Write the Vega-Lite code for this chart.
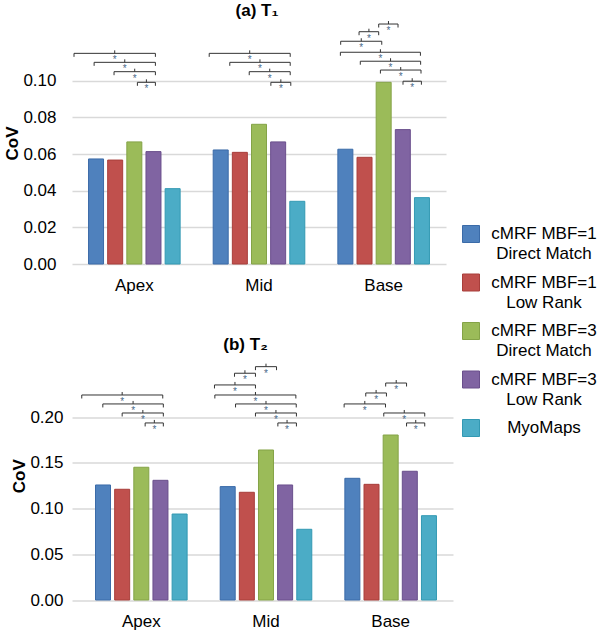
{
  "$schema": "https://vega.github.io/schema/vega-lite/v6.json",
  "padding": {"left": 3, "top": 2, "right": 0, "bottom": 0},
  "background": "white",
  "config": {
    "view": {"stroke": null},
    "font": "Liberation Sans",
    "title": {"font": "Liberation Sans", "fontSize": 17, "fontWeight": "bold", "color": "#000"},
    "axis": {"labelFont": "Liberation Sans", "labelFontSize": 17, "labelColor": "#000", "titleFont": "Liberation Sans", "titleFontSize": 17, "titleFontWeight": "bold", "titleColor": "#000", "ticks": false, "domain": false, "gridColor": "#d9d9d9", "gridWidth": 1.5},
    "axisY": {"labelPadding": 16, "titlePadding": 1},
    "axisX": {"labelPadding": 13.5, "grid": false, "labelAngle": 0},
    "style": {"guide-label": {"lineHeight": 20}},
    "legend": {"orient": "none", "legendX": 390, "legendY": 203, "title": null, "symbolType": "square", "symbolSize": 289, "symbolStrokeColor": "#3a3a3a", "symbolStrokeWidth": 1, "labelFont": "Liberation Sans", "labelFontSize": 17, "labelColor": "#000", "labelAlign": "center", "labelOffset": 64, "rowPadding": 9.5, "labelLimit": 250}
  },
  "datasets": {
    "bars": [
      {"panel": "a", "region": "Apex", "series": "cMRF MBF=1 Direct Match", "s": 0, "cov": 0.0573},
      {"panel": "a", "region": "Apex", "series": "cMRF MBF=1 Low Rank", "s": 1, "cov": 0.0567},
      {"panel": "a", "region": "Apex", "series": "cMRF MBF=3 Direct Match", "s": 2, "cov": 0.0666},
      {"panel": "a", "region": "Apex", "series": "cMRF MBF=3 Low Rank", "s": 3, "cov": 0.0613},
      {"panel": "a", "region": "Apex", "series": "MyoMaps", "s": 4, "cov": 0.0411},
      {"panel": "a", "region": "Mid", "series": "cMRF MBF=1 Direct Match", "s": 0, "cov": 0.0622},
      {"panel": "a", "region": "Mid", "series": "cMRF MBF=1 Low Rank", "s": 1, "cov": 0.0609},
      {"panel": "a", "region": "Mid", "series": "cMRF MBF=3 Direct Match", "s": 2, "cov": 0.0762},
      {"panel": "a", "region": "Mid", "series": "cMRF MBF=3 Low Rank", "s": 3, "cov": 0.0666},
      {"panel": "a", "region": "Mid", "series": "MyoMaps", "s": 4, "cov": 0.0342},
      {"panel": "a", "region": "Base", "series": "cMRF MBF=1 Direct Match", "s": 0, "cov": 0.0626},
      {"panel": "a", "region": "Base", "series": "cMRF MBF=1 Low Rank", "s": 1, "cov": 0.0582},
      {"panel": "a", "region": "Base", "series": "cMRF MBF=3 Direct Match", "s": 2, "cov": 0.0991},
      {"panel": "a", "region": "Base", "series": "cMRF MBF=3 Low Rank", "s": 3, "cov": 0.0733},
      {"panel": "a", "region": "Base", "series": "MyoMaps", "s": 4, "cov": 0.0362},
      {"panel": "b", "region": "Apex", "series": "cMRF MBF=1 Direct Match", "s": 0, "cov": 0.1259},
      {"panel": "b", "region": "Apex", "series": "cMRF MBF=1 Low Rank", "s": 1, "cov": 0.1212},
      {"panel": "b", "region": "Apex", "series": "cMRF MBF=3 Direct Match", "s": 2, "cov": 0.1453},
      {"panel": "b", "region": "Apex", "series": "cMRF MBF=3 Low Rank", "s": 3, "cov": 0.1310},
      {"panel": "b", "region": "Apex", "series": "MyoMaps", "s": 4, "cov": 0.0941},
      {"panel": "b", "region": "Mid", "series": "cMRF MBF=1 Direct Match", "s": 0, "cov": 0.1241},
      {"panel": "b", "region": "Mid", "series": "cMRF MBF=1 Low Rank", "s": 1, "cov": 0.1179},
      {"panel": "b", "region": "Mid", "series": "cMRF MBF=3 Direct Match", "s": 2, "cov": 0.1642},
      {"panel": "b", "region": "Mid", "series": "cMRF MBF=3 Low Rank", "s": 3, "cov": 0.1259},
      {"panel": "b", "region": "Mid", "series": "MyoMaps", "s": 4, "cov": 0.0774},
      {"panel": "b", "region": "Base", "series": "cMRF MBF=1 Direct Match", "s": 0, "cov": 0.1332},
      {"panel": "b", "region": "Base", "series": "cMRF MBF=1 Low Rank", "s": 1, "cov": 0.1266},
      {"panel": "b", "region": "Base", "series": "cMRF MBF=3 Direct Match", "s": 2, "cov": 0.1806},
      {"panel": "b", "region": "Base", "series": "cMRF MBF=3 Low Rank", "s": 3, "cov": 0.1409},
      {"panel": "b", "region": "Base", "series": "MyoMaps", "s": 4, "cov": 0.0923}
    ],
    "brackets": [
      {"panel": "a", "region": "Apex", "id": "aA1", "lo": -1.15, "hi": 3.10, "mid": 0.975, "y": 0.1149},
      {"panel": "a", "region": "Apex", "id": "aA2", "lo": -0.10, "hi": 3.10, "mid": 1.5, "y": 0.1100},
      {"panel": "a", "region": "Apex", "id": "aA3", "lo": 0.94, "hi": 3.10, "mid": 2.02, "y": 0.1049},
      {"panel": "a", "region": "Apex", "id": "aA4", "lo": 2.16, "hi": 3.10, "mid": 2.63, "y": 0.0991},
      {"panel": "a", "region": "Mid", "id": "aM1", "lo": -0.60, "hi": 3.63, "mid": 1.515, "y": 0.1149},
      {"panel": "a", "region": "Mid", "id": "aM2", "lo": 0.475, "hi": 3.63, "mid": 2.05, "y": 0.1100},
      {"panel": "a", "region": "Mid", "id": "aM3", "lo": 1.49, "hi": 3.63, "mid": 2.56, "y": 0.1049},
      {"panel": "a", "region": "Mid", "id": "aM4", "lo": 2.62, "hi": 3.66, "mid": 3.14, "y": 0.0991},
      {"panel": "a", "region": "Base", "id": "aB1", "lo": 1.74, "hi": 2.75, "mid": 2.25, "y": 0.1309},
      {"panel": "a", "region": "Base", "id": "aB2", "lo": 0.715, "hi": 1.74, "mid": 1.23, "y": 0.1267},
      {"panel": "a", "region": "Base", "id": "aB3", "lo": -0.245, "hi": 1.90, "mid": 0.83, "y": 0.1215},
      {"panel": "a", "region": "Base", "id": "aB4", "lo": -0.26, "hi": 3.92, "mid": 1.83, "y": 0.1155},
      {"panel": "a", "region": "Base", "id": "aB5", "lo": 0.78, "hi": 3.93, "mid": 2.36, "y": 0.1106},
      {"panel": "a", "region": "Base", "id": "aB6", "lo": 1.83, "hi": 3.95, "mid": 2.89, "y": 0.1058},
      {"panel": "a", "region": "Base", "id": "aB7", "lo": 3.01, "hi": 3.97, "mid": 3.49, "y": 0.0997},
      {"panel": "b", "region": "Apex", "id": "bA1", "lo": -1.11, "hi": 3.12, "mid": 1.0, "y": 0.2244},
      {"panel": "b", "region": "Apex", "id": "bA2", "lo": -0.01, "hi": 3.15, "mid": 1.57, "y": 0.2146},
      {"panel": "b", "region": "Apex", "id": "bA3", "lo": 1.0, "hi": 3.15, "mid": 2.08, "y": 0.2047},
      {"panel": "b", "region": "Apex", "id": "bA4", "lo": 2.2, "hi": 3.15, "mid": 2.68, "y": 0.1938},
      {"panel": "b", "region": "Mid", "id": "bM1", "lo": 1.45, "hi": 2.55, "mid": 2.0, "y": 0.2554},
      {"panel": "b", "region": "Mid", "id": "bM2", "lo": 0.355, "hi": 1.45, "mid": 0.90, "y": 0.2482},
      {"panel": "b", "region": "Mid", "id": "bM3", "lo": -0.69, "hi": 1.45, "mid": 0.38, "y": 0.2354},
      {"panel": "b", "region": "Mid", "id": "bM4", "lo": -0.67, "hi": 3.56, "mid": 1.45, "y": 0.2244},
      {"panel": "b", "region": "Mid", "id": "bM5", "lo": 0.41, "hi": 3.58, "mid": 2.0, "y": 0.2146},
      {"panel": "b", "region": "Mid", "id": "bM6", "lo": 1.45, "hi": 3.59, "mid": 2.52, "y": 0.2047},
      {"panel": "b", "region": "Mid", "id": "bM7", "lo": 2.62, "hi": 3.59, "mid": 3.1, "y": 0.1938},
      {"panel": "b", "region": "Base", "id": "bB1", "lo": 1.74, "hi": 2.83, "mid": 2.29, "y": 0.2375},
      {"panel": "b", "region": "Base", "id": "bB2", "lo": 0.70, "hi": 1.78, "mid": 1.24, "y": 0.2266},
      {"panel": "b", "region": "Base", "id": "bB3", "lo": -0.43, "hi": 1.73, "mid": 0.65, "y": 0.2146},
      {"panel": "b", "region": "Base", "id": "bB4", "lo": 1.64, "hi": 3.78, "mid": 2.71, "y": 0.2047},
      {"panel": "b", "region": "Base", "id": "bB5", "lo": 2.83, "hi": 3.78, "mid": 3.31, "y": 0.1938}
    ]
  },
  "spacing": 41.5,
  "vconcat": [
    {
      "title": {"text": "(a) T₁", "dx": -2, "offset": -1},
      "width": 374,
      "height": 242,
      "layer": [
        {
          "data": {"name": "bars"},
          "transform": [{"filter": "datum.panel == 'a'"}],
          "mark": {"type": "bar", "width": 15, "strokeWidth": 1},
          "encoding": {
            "x": {"field": "region", "type": "nominal", "sort": ["Apex", "Mid", "Base"], "scale": {"paddingInner": 0, "paddingOuter": 0}, "title": null},
            "xOffset": {"field": "s", "type": "quantitative", "scale": {"domain": [-1.255, 5.255], "nice": false, "zero": false}},
            "y": {"field": "cov", "type": "quantitative", "scale": {"domain": [0, 0.132], "nice": false}, "axis": {"values": [0, 0.02, 0.04, 0.06, 0.08, 0.1], "format": ".2f"}, "title": "CoV"},
            "color": {"field": "series", "type": "nominal", "scale": {"domain": ["cMRF MBF=1 Direct Match", "cMRF MBF=1 Low Rank", "cMRF MBF=3 Direct Match", "cMRF MBF=3 Low Rank", "MyoMaps"], "range": ["#4f81bd", "#c0504d", "#9bbb59", "#8064a2", "#4bacc6"]}, "legend": {"labelExpr": "datum.label == 'MyoMaps' ? datum.label : [slice(datum.label, 0, 10), slice(datum.label, 11)]"}},
            "stroke": {"field": "series", "type": "nominal", "scale": {"domain": ["cMRF MBF=1 Direct Match", "cMRF MBF=1 Low Rank", "cMRF MBF=3 Direct Match", "cMRF MBF=3 Low Rank", "MyoMaps"], "range": ["#3b6ba8", "#a83e3b", "#84a347", "#6a4f8c", "#3399b3"]}, "legend": null}
          }
        },
        {
          "data": {"name": "brackets"},
          "transform": [{"filter": "datum.panel == 'a'"}, {"fold": ["lo", "hi"], "as": ["end", "pos"]}],
          "mark": {"type": "line", "color": "#333333", "strokeWidth": 1},
          "encoding": {
            "x": {"field": "region", "type": "nominal", "sort": ["Apex", "Mid", "Base"]},
            "xOffset": {"field": "pos", "type": "quantitative"},
            "y": {"field": "y", "type": "quantitative"},
            "detail": {"field": "id", "type": "nominal"}
          }
        },
        {
          "data": {"name": "brackets"},
          "transform": [{"filter": "datum.panel == 'a'"}, {"fold": ["lo", "hi"], "as": ["end", "pos"]}],
          "mark": {"type": "point", "shape": "M0,0L0,1", "size": 49, "filled": false, "stroke": "#333333", "strokeWidth": 1, "opacity": 1},
          "encoding": {
            "x": {"field": "region", "type": "nominal", "sort": ["Apex", "Mid", "Base"]},
            "xOffset": {"field": "pos", "type": "quantitative"},
            "y": {"field": "y", "type": "quantitative"}
          }
        },
        {
          "data": {"name": "brackets"},
          "transform": [{"filter": "datum.panel == 'a'"}],
          "mark": {"type": "point", "shape": "M0,0L0,-1", "size": 36, "filled": false, "stroke": "#333333", "strokeWidth": 1, "opacity": 1},
          "encoding": {
            "x": {"field": "region", "type": "nominal", "sort": ["Apex", "Mid", "Base"]},
            "xOffset": {"field": "mid", "type": "quantitative"},
            "y": {"field": "y", "type": "quantitative"}
          }
        },
        {
          "data": {"name": "brackets"},
          "transform": [{"filter": "datum.panel == 'a'"}],
          "mark": {"type": "text", "text": "*", "fontSize": 10, "baseline": "alphabetic", "dy": 10, "color": "#4a6a8a"},
          "encoding": {
            "x": {"field": "region", "type": "nominal", "sort": ["Apex", "Mid", "Base"]},
            "xOffset": {"field": "mid", "type": "quantitative"},
            "y": {"field": "y", "type": "quantitative"}
          }
        }
      ]
    },
    {
      "title": {"text": "(b) T₂", "dx": -17, "offset": -2},
      "width": 381,
      "height": 248.5,
      "layer": [
        {
          "data": {"name": "bars"},
          "transform": [{"filter": "datum.panel == 'b'"}],
          "mark": {"type": "bar", "width": 15, "strokeWidth": 1},
          "encoding": {
            "x": {"field": "region", "type": "nominal", "sort": ["Apex", "Mid", "Base"], "scale": {"paddingInner": 0, "paddingOuter": 0.028, "align": 1}, "title": null},
            "xOffset": {"field": "s", "type": "quantitative", "scale": {"domain": [-1.255, 5.255], "nice": false, "zero": false}},
            "y": {"field": "cov", "type": "quantitative", "scale": {"domain": [0, 0.272], "nice": false}, "axis": {"values": [0, 0.05, 0.1, 0.15, 0.2], "format": ".2f", "offset": -7}, "title": "CoV"},
            "color": {"field": "series", "type": "nominal", "scale": {"domain": ["cMRF MBF=1 Direct Match", "cMRF MBF=1 Low Rank", "cMRF MBF=3 Direct Match", "cMRF MBF=3 Low Rank", "MyoMaps"], "range": ["#4f81bd", "#c0504d", "#9bbb59", "#8064a2", "#4bacc6"]}, "legend": {"labelExpr": "datum.label == 'MyoMaps' ? datum.label : [slice(datum.label, 0, 10), slice(datum.label, 11)]"}},
            "stroke": {"field": "series", "type": "nominal", "scale": {"domain": ["cMRF MBF=1 Direct Match", "cMRF MBF=1 Low Rank", "cMRF MBF=3 Direct Match", "cMRF MBF=3 Low Rank", "MyoMaps"], "range": ["#3b6ba8", "#a83e3b", "#84a347", "#6a4f8c", "#3399b3"]}, "legend": null}
          }
        },
        {
          "data": {"name": "brackets"},
          "transform": [{"filter": "datum.panel == 'b'"}, {"fold": ["lo", "hi"], "as": ["end", "pos"]}],
          "mark": {"type": "line", "color": "#333333", "strokeWidth": 1},
          "encoding": {
            "x": {"field": "region", "type": "nominal", "sort": ["Apex", "Mid", "Base"]},
            "xOffset": {"field": "pos", "type": "quantitative"},
            "y": {"field": "y", "type": "quantitative"},
            "detail": {"field": "id", "type": "nominal"}
          }
        },
        {
          "data": {"name": "brackets"},
          "transform": [{"filter": "datum.panel == 'b'"}, {"fold": ["lo", "hi"], "as": ["end", "pos"]}],
          "mark": {"type": "point", "shape": "M0,0L0,1", "size": 49, "filled": false, "stroke": "#333333", "strokeWidth": 1, "opacity": 1},
          "encoding": {
            "x": {"field": "region", "type": "nominal", "sort": ["Apex", "Mid", "Base"]},
            "xOffset": {"field": "pos", "type": "quantitative"},
            "y": {"field": "y", "type": "quantitative"}
          }
        },
        {
          "data": {"name": "brackets"},
          "transform": [{"filter": "datum.panel == 'b'"}],
          "mark": {"type": "point", "shape": "M0,0L0,-1", "size": 36, "filled": false, "stroke": "#333333", "strokeWidth": 1, "opacity": 1},
          "encoding": {
            "x": {"field": "region", "type": "nominal", "sort": ["Apex", "Mid", "Base"]},
            "xOffset": {"field": "mid", "type": "quantitative"},
            "y": {"field": "y", "type": "quantitative"}
          }
        },
        {
          "data": {"name": "brackets"},
          "transform": [{"filter": "datum.panel == 'b'"}],
          "mark": {"type": "text", "text": "*", "fontSize": 10, "baseline": "alphabetic", "dy": 10, "color": "#4a6a8a"},
          "encoding": {
            "x": {"field": "region", "type": "nominal", "sort": ["Apex", "Mid", "Base"]},
            "xOffset": {"field": "mid", "type": "quantitative"},
            "y": {"field": "y", "type": "quantitative"}
          }
        }
      ]
    }
  ]
}
